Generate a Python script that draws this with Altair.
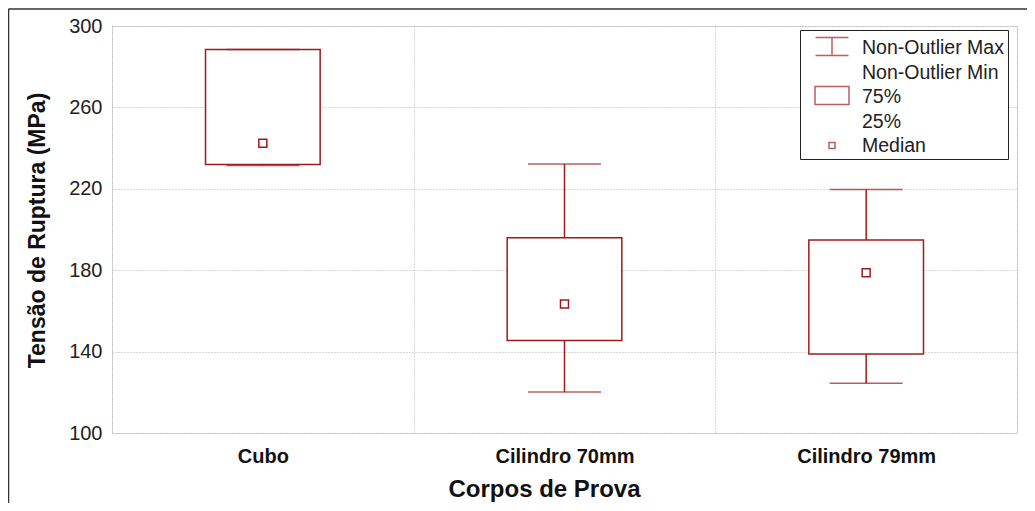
import altair as alt
import pandas as pd

# ---- data ----
categories = ["Cubo", "Cilindro 70mm", "Cilindro 79mm"]
q1_values = [232.0, 145.5, 138.8]        # 25%
q3_values = [288.5, 196.0, 194.8]        # 75%
median_values = [242.4, 163.4, 178.8]
min_values = [231.4, 120.1, 124.4]       # non-outlier min
max_values = [288.5, 232.2, 219.7]       # non-outlier max
y_ticks = [100, 140, 180, 220, 260, 300]
legend_labels = ["Non-Outlier Max", "Non-Outlier Min", "75%", "25%", "Median"]

RED = "#9E1B1B"
FONT = "Liberation Sans"

df = pd.DataFrame({
    "cat": categories,
    "q1": q1_values,
    "q3": q3_values,
    "med": median_values,
    "lo": min_values,
    "hi": max_values,
})

# legend symbols (unit = 12.5 px), shifted right inside the symbol column
legend_paths = [
    "M-0.16,-0.8L2.48,-0.8M1.16,-0.8L1.16,0.64M-0.16,0.64L2.48,0.64",
    "M0,0",
    "M-0.2,-0.8L2.52,-0.8L2.52,0.64L-0.2,0.64Z",
    "M0,0",
    "M0.92,-0.24L1.4,-0.24L1.4,0.24L0.92,0.24Z",
]

x_scale = alt.Scale(domain=categories, paddingInner=0, paddingOuter=0)
y_scale = alt.Scale(domain=[100, 300], nice=False, zero=False)

x_enc = alt.X(
    "cat:N", scale=x_scale, sort=categories,
    axis=alt.Axis(
        title="Corpos de Prova", tickBand="extent", grid=True,
        gridColor="#b0b0b0", gridDash=[1, 2], ticks=False, domain=False,
        labelAngle=0, labelFont=FONT, labelFontSize=20, labelFontWeight="bold",
        labelColor="#111", labelPadding=13,
        titleFont=FONT, titleFontSize=24, titleFontWeight="bold", titleColor="#111",
        titleX=432, titleY=56, titleBaseline="middle", titleAlign="center",
    ),
)
y_axis = alt.Axis(
    title="Tensão de Ruptura (MPa)", values=y_ticks, grid=True,
    gridColor="#b0b0b0", gridDash=[1, 2], ticks=False, domain=False,
    labelFont=FONT, labelFontSize=20, labelColor="#222", labelPadding=10,
    titleFont=FONT, titleFontSize=23, titleFontWeight="bold", titleColor="#111",
    titleX=-75, titleY=204, titleAngle=270, titleBaseline="middle", titleAlign="center",
)

base = alt.Chart(df)

boxes = base.mark_bar(
    width=alt.RelativeBandSize(0.38), fill="white", stroke=RED, strokeWidth=1.5
).encode(x=x_enc, y=alt.Y("q3:Q", scale=y_scale, axis=y_axis), y2="q1:Q")

upper = base.mark_rule(color=RED, strokeWidth=1.5).encode(
    x=alt.X("cat:N", sort=categories), y="q3:Q", y2="hi:Q")
lower = base.mark_rule(color=RED, strokeWidth=1.5).encode(
    x=alt.X("cat:N", sort=categories), y="lo:Q", y2="q1:Q")

cap_hi = base.mark_tick(color=RED, size=73, thickness=1.5).encode(
    x=alt.X("cat:N", sort=categories), y="hi:Q")
cap_lo = base.mark_tick(color=RED, size=73, thickness=1.5).encode(
    x=alt.X("cat:N", sort=categories), y="lo:Q")

medians = base.mark_point(
    shape="square", filled=False, color=RED, size=64, strokeWidth=1.5, opacity=1
).encode(x=alt.X("cat:N", sort=categories), y="med:Q")

legend_df = pd.DataFrame({"item": legend_labels, "cat": categories[0], "v": 0})
legend_layer = alt.Chart(legend_df).mark_point(
    clip=True, filled=False, color=RED, strokeWidth=1.5
).encode(
    x=alt.X("cat:N", sort=categories),
    y=alt.Y("v:Q"),
    shape=alt.Shape(
        "item:N",
        scale=alt.Scale(domain=legend_labels, range=legend_paths),
        legend=alt.Legend(
            title=None, orient="none", legendX=688, legendY=4,
            symbolSize=625, symbolStrokeColor=RED, symbolFillColor="transparent",
            symbolStrokeWidth=1.5, labelFont=FONT, labelFontSize=19.5,
            labelColor="#222", labelOffset=31, labelLimit=400,
            rowPadding=0.5, padding=4, fillColor="white", strokeColor="#222",
        ),
    ),
)

frame_df = pd.DataFrame({"a": [0]})
frame_left = alt.Chart(frame_df).mark_rule(color="#333", strokeWidth=1.5).encode(
    x=alt.value(-103.5), y=alt.value(-17), y2=alt.value(500))
frame_top = alt.Chart(frame_df).mark_rule(color="#333", strokeWidth=1.5).encode(
    x=alt.value(-103.5), x2=alt.value(1000), y=alt.value(-17))

chart = alt.layer(
    boxes, upper, lower, cap_hi, cap_lo, medians, legend_layer, frame_left, frame_top
).properties(
    width=905, height=407,
    padding={"left": 104, "top": 18, "right": 10, "bottom": 70},
    autosize=alt.AutoSizeParams(type="none"),
).configure_view(
    stroke="#333", strokeWidth=1.5
).configure_legend(
    strokeWidth=1.5
).configure(background="white")

chart.save("out.html", embed_options={"renderer": "svg", "actions": False})
